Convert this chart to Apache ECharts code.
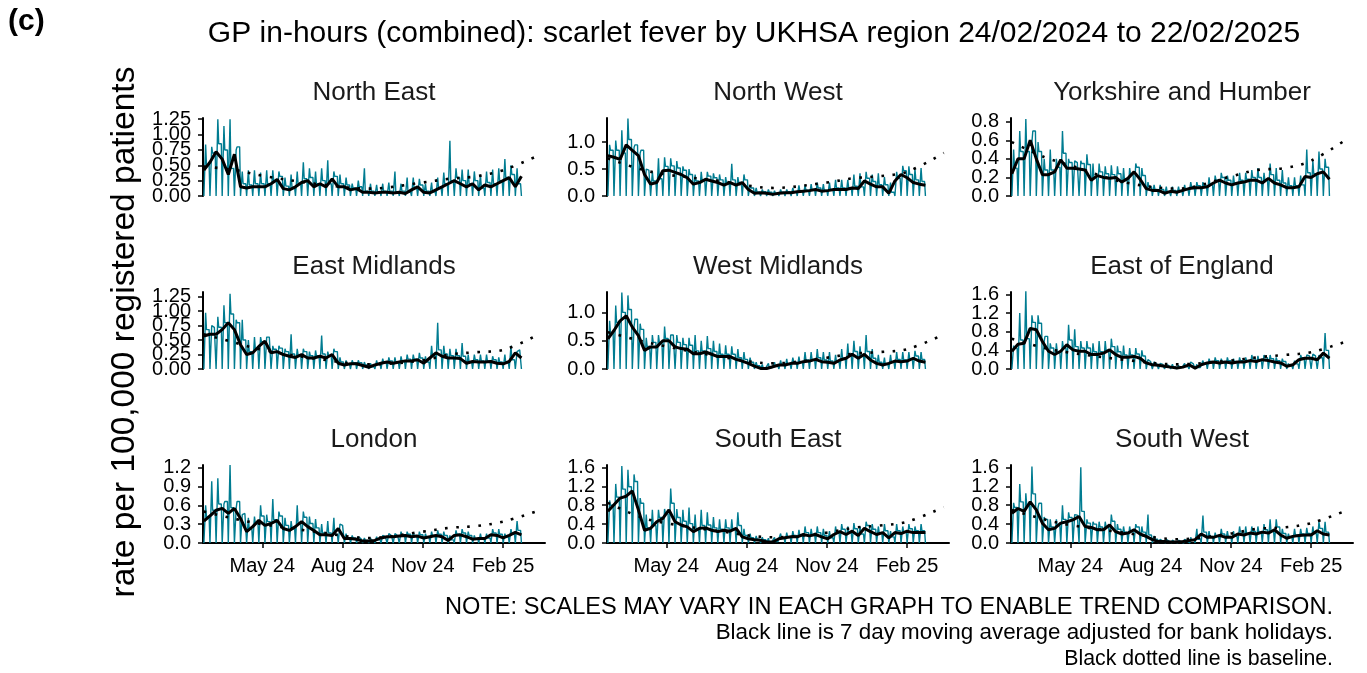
<!DOCTYPE html>
<html>
<head>
<meta charset="utf-8">
<script src="https://cdn.jsdelivr.net/npm/echarts@6/dist/echarts.min.js"></script>
<style>
  html, body { margin: 0; padding: 0; background: #fff; }
  #chart { width: 1367px; height: 673px; }
</style>
</head>
<body>
<div id="chart"></div>
<script>
// weekly readings, week 0 starts Saturday 24/02/2024
// xxAvg: black 7 day average (53 Saturdays), xxMon: Monday spike, xxDay: Tue-Fri level, xxBase: baseline
const regions = ['North East', 'North West', 'Yorkshire and Humber', 'East Midlands', 'West Midlands',
  'East of England', 'London', 'South East', 'South West']

const baseDates = ['2024-02-24', '2024-04-01', '2024-05-01', '2024-07-01', '2024-09-01',
  '2024-11-01', '2024-12-01', '2025-01-01', '2025-02-01', '2025-03-15']
const xTickDates = ['2024-05-01', '2024-08-01', '2024-11-01', '2025-02-01']
const xTickLabels = ['May 24', 'Aug 24', 'Nov 24', 'Feb 25']

const neAvg = [0.42, 0.55, 0.72, 0.6, 0.35, 0.68, 0.15, 0.13, 0.15, 0.15, 0.15, 0.2, 0.27, 0.12, 0.1, 0.15, 0.22, 0.25, 0.15, 0.2,
  0.15, 0.28, 0.15, 0.15, 0.1, 0.12, 0.06, 0.06, 0.05, 0.06, 0.06, 0.05, 0.06, 0.04, 0.1, 0.15, 0.06, 0.05, 0.1, 0.15,
  0.2, 0.25, 0.2, 0.15, 0.2, 0.1, 0.18, 0.15, 0.2, 0.25, 0.3, 0.15, 0.32]
const neMon = [0.84, 0.8, 1.25, 1.14, 1.25, 0.75, 0.4, 0.42, 0.42, 0.38, 0.42, 0.42, 0.4, 0.3, 0.35, 0.4, 0.55, 0.45, 0.4, 0.45,
  0.58, 0.4, 0.35, 0.3, 0.2, 0.25, 0.45, 0.2, 0.18, 0.2, 0.22, 0.4, 0.2, 0.3, 0.3, 0.28, 0.2, 0.22, 0.3, 0.38,
  0.9, 0.45, 0.43, 0.43, 0.4, 0.35, 0.4, 0.43, 0.45, 0.6, 0.5, 0.45]
const neDay = [0.5, 0.7, 0.85, 0.75, 0.45, 0.8, 0.2, 0.18, 0.2, 0.2, 0.2, 0.25, 0.32, 0.16, 0.14, 0.2, 0.28, 0.3, 0.2, 0.25,
  0.2, 0.32, 0.2, 0.18, 0.13, 0.15, 0.08, 0.08, 0.07, 0.08, 0.08, 0.07, 0.08, 0.06, 0.13, 0.18, 0.08, 0.07, 0.13, 0.2,
  0.25, 0.3, 0.25, 0.2, 0.25, 0.13, 0.22, 0.2, 0.25, 0.3, 0.35, 0.2]
const neBase = [0.48, 0.42, 0.33, 0.2, 0.12, 0.22, 0.28, 0.32, 0.42, 0.67]

const nwAvg = [0.75, 0.72, 0.68, 0.95, 0.85, 0.75, 0.4, 0.22, 0.25, 0.47, 0.48, 0.44, 0.4, 0.34, 0.22, 0.25, 0.31, 0.28, 0.25, 0.2,
  0.25, 0.2, 0.25, 0.12, 0.05, 0.06, 0.05, 0.03, 0.05, 0.06, 0.06, 0.08, 0.09, 0.1, 0.12, 0.09, 0.1, 0.12, 0.12, 0.12,
  0.15, 0.14, 0.28, 0.22, 0.17, 0.17, 0.05, 0.28, 0.4, 0.34, 0.25, 0.22, 0.2]
const nwMon = [0.95, 1.03, 1.22, 1.44, 0.9, 0.8, 0.5, 0.45, 0.7, 0.72, 0.7, 0.65, 0.55, 0.5, 0.4, 0.45, 0.45, 0.42, 0.4, 0.35,
  0.6, 0.35, 0.4, 0.2, 0.15, 0.12, 0.12, 0.1, 0.12, 0.12, 0.15, 0.2, 0.2, 0.22, 0.25, 0.22, 0.25, 0.3, 0.3, 0.3,
  0.4, 0.42, 0.45, 0.4, 0.42, 0.35, 0.25, 0.45, 0.56, 0.55, 0.5, 0.52]
const nwDay = [0.85, 0.85, 0.8, 1.05, 0.95, 0.85, 0.48, 0.28, 0.32, 0.55, 0.56, 0.52, 0.48, 0.4, 0.28, 0.3, 0.37, 0.34, 0.3, 0.25,
  0.3, 0.25, 0.3, 0.15, 0.07, 0.08, 0.07, 0.05, 0.07, 0.08, 0.08, 0.1, 0.11, 0.12, 0.15, 0.11, 0.12, 0.15, 0.15, 0.15,
  0.18, 0.17, 0.33, 0.27, 0.21, 0.21, 0.07, 0.33, 0.47, 0.4, 0.3, 0.27]
const nwBase = [0.7, 0.5, 0.4, 0.28, 0.15, 0.25, 0.33, 0.37, 0.45, 0.8]

const yhAvg = [0.24, 0.4, 0.4, 0.6, 0.4, 0.23, 0.23, 0.26, 0.39, 0.3, 0.3, 0.29, 0.28, 0.17, 0.22, 0.2, 0.19, 0.2, 0.15, 0.19,
  0.26, 0.18, 0.08, 0.06, 0.06, 0.03, 0.05, 0.04, 0.06, 0.08, 0.09, 0.09, 0.1, 0.14, 0.17, 0.14, 0.12, 0.14, 0.15, 0.17,
  0.17, 0.14, 0.19, 0.14, 0.12, 0.09, 0.09, 0.1, 0.21, 0.2, 0.24, 0.26, 0.18]
const yhMon = [0.5, 0.7, 0.83, 0.58, 0.58, 0.4, 0.5, 0.4, 0.7, 0.4, 0.38, 0.38, 0.45, 0.35, 0.35, 0.32, 0.33, 0.32, 0.3, 0.3,
  0.35, 0.3, 0.15, 0.12, 0.12, 0.1, 0.1, 0.1, 0.12, 0.15, 0.15, 0.15, 0.2, 0.22, 0.25, 0.22, 0.22, 0.25, 0.25, 0.28,
  0.3, 0.25, 0.35, 0.3, 0.28, 0.2, 0.2, 0.22, 0.5, 0.38, 0.48, 0.4]
const yhDay = [0.3, 0.48, 0.48, 0.7, 0.48, 0.28, 0.28, 0.31, 0.46, 0.36, 0.36, 0.35, 0.34, 0.2, 0.26, 0.24, 0.23, 0.24, 0.18, 0.23,
  0.31, 0.22, 0.1, 0.07, 0.07, 0.04, 0.06, 0.05, 0.07, 0.1, 0.11, 0.11, 0.12, 0.17, 0.2, 0.17, 0.14, 0.17, 0.18, 0.2,
  0.2, 0.17, 0.23, 0.17, 0.14, 0.11, 0.11, 0.12, 0.25, 0.24, 0.29, 0.31]
const yhBase = [0.58, 0.42, 0.33, 0.15, 0.08, 0.21, 0.28, 0.3, 0.38, 0.62]

const emAvg = [0.57, 0.6, 0.6, 0.68, 0.8, 0.68, 0.42, 0.25, 0.28, 0.39, 0.48, 0.28, 0.3, 0.25, 0.22, 0.2, 0.25, 0.19, 0.19, 0.22,
  0.19, 0.25, 0.1, 0.07, 0.09, 0.09, 0.06, 0.03, 0.07, 0.1, 0.12, 0.1, 0.12, 0.14, 0.14, 0.16, 0.1, 0.19, 0.28, 0.22,
  0.19, 0.19, 0.18, 0.1, 0.13, 0.12, 0.12, 0.13, 0.1, 0.09, 0.13, 0.28, 0.19]
const emMon = [0.97, 0.75, 0.9, 1.1, 1.3, 0.85, 0.85, 0.5, 0.55, 0.55, 0.55, 0.4, 0.4, 0.35, 0.6, 0.35, 0.35, 0.3, 0.32, 0.58,
  0.3, 0.35, 0.2, 0.15, 0.15, 0.15, 0.12, 0.1, 0.15, 0.18, 0.2, 0.2, 0.22, 0.25, 0.25, 0.28, 0.22, 0.4, 0.8, 0.4,
  0.35, 0.35, 0.45, 0.25, 0.25, 0.25, 0.25, 0.22, 0.2, 0.25, 0.4, 0.3]
const emDay = [0.68, 0.72, 0.72, 0.8, 0.95, 0.8, 0.5, 0.3, 0.34, 0.47, 0.55, 0.34, 0.36, 0.3, 0.26, 0.24, 0.3, 0.23, 0.23, 0.26,
  0.23, 0.3, 0.12, 0.08, 0.11, 0.11, 0.07, 0.04, 0.08, 0.12, 0.14, 0.12, 0.14, 0.17, 0.17, 0.19, 0.12, 0.23, 0.33, 0.26,
  0.23, 0.23, 0.22, 0.12, 0.16, 0.14, 0.14, 0.16, 0.12, 0.11, 0.16, 0.33]
const emBase = [0.6, 0.45, 0.33, 0.18, 0.08, 0.15, 0.25, 0.29, 0.33, 0.61]

const wmAvg = [0.53, 0.68, 0.85, 0.94, 0.74, 0.59, 0.33, 0.39, 0.39, 0.5, 0.5, 0.39, 0.36, 0.35, 0.27, 0.27, 0.3, 0.26, 0.22, 0.22,
  0.22, 0.17, 0.14, 0.1, 0.05, 0.01, 0.01, 0.04, 0.07, 0.07, 0.1, 0.1, 0.13, 0.14, 0.17, 0.13, 0.12, 0.1, 0.16, 0.19,
  0.26, 0.19, 0.26, 0.16, 0.1, 0.07, 0.1, 0.14, 0.13, 0.14, 0.19, 0.14, 0.12]
const wmMon = [0.85, 1.12, 1.35, 1.3, 0.75, 0.8, 0.55, 0.6, 0.6, 0.75, 0.6, 0.6, 0.55, 0.55, 0.6, 0.5, 0.58, 0.5, 0.45, 0.42,
  0.4, 0.35, 0.3, 0.2, 0.12, 0.08, 0.1, 0.12, 0.15, 0.18, 0.2, 0.22, 0.3, 0.3, 0.35, 0.3, 0.3, 0.25, 0.35, 0.45,
  0.5, 0.4, 0.6, 0.35, 0.25, 0.2, 0.25, 0.3, 0.3, 0.3, 0.32, 0.3]
const wmDay = [0.64, 0.82, 1.0, 1.05, 0.88, 0.7, 0.4, 0.47, 0.47, 0.54, 0.6, 0.47, 0.43, 0.42, 0.32, 0.32, 0.36, 0.31, 0.26, 0.26,
  0.26, 0.2, 0.17, 0.12, 0.06, 0.02, 0.02, 0.05, 0.08, 0.08, 0.12, 0.12, 0.16, 0.17, 0.2, 0.16, 0.14, 0.12, 0.19, 0.23,
  0.31, 0.23, 0.31, 0.19, 0.12, 0.08, 0.12, 0.17, 0.16, 0.17, 0.23, 0.17]
const wmBase = [0.65, 0.5, 0.4, 0.22, 0.1, 0.2, 0.27, 0.3, 0.35, 0.61]

const eeAvg = [0.38, 0.53, 0.55, 0.87, 0.84, 0.59, 0.38, 0.31, 0.38, 0.52, 0.41, 0.38, 0.38, 0.31, 0.31, 0.34, 0.41, 0.31, 0.25, 0.25,
  0.27, 0.23, 0.13, 0.09, 0.08, 0.06, 0.04, 0.02, 0.04, 0.09, 0.02, 0.09, 0.13, 0.15, 0.13, 0.15, 0.13, 0.15, 0.15, 0.18,
  0.16, 0.2, 0.18, 0.15, 0.13, 0.06, 0.09, 0.2, 0.23, 0.23, 0.2, 0.34, 0.23]
const eeMon = [0.5, 1.2, 1.67, 1.15, 1.15, 0.6, 0.55, 0.55, 0.6, 0.95, 0.85, 0.6, 0.6, 0.55, 0.6, 0.6, 0.65, 0.5, 0.5, 0.45,
  0.45, 0.4, 0.2, 0.15, 0.12, 0.1, 0.1, 0.08, 0.12, 0.15, 0.1, 0.18, 0.22, 0.25, 0.22, 0.25, 0.22, 0.25, 0.25, 0.3,
  0.28, 0.3, 0.3, 0.25, 0.22, 0.12, 0.18, 0.3, 0.3, 0.32, 0.3, 0.77]
const eeDay = [0.45, 0.62, 0.65, 1.0, 0.98, 0.7, 0.45, 0.37, 0.45, 0.62, 0.48, 0.45, 0.45, 0.37, 0.37, 0.4, 0.48, 0.37, 0.3, 0.3,
  0.32, 0.28, 0.16, 0.11, 0.1, 0.07, 0.05, 0.03, 0.05, 0.11, 0.03, 0.11, 0.16, 0.18, 0.16, 0.18, 0.16, 0.18, 0.18, 0.22,
  0.19, 0.24, 0.22, 0.18, 0.16, 0.07, 0.11, 0.24, 0.28, 0.28, 0.24, 0.4]
const eeBase = [0.65, 0.45, 0.35, 0.2, 0.1, 0.18, 0.25, 0.3, 0.36, 0.6]

const ldAvg = [0.35, 0.43, 0.52, 0.55, 0.47, 0.55, 0.39, 0.18, 0.26, 0.36, 0.28, 0.31, 0.36, 0.23, 0.2, 0.26, 0.34, 0.26, 0.2, 0.13,
  0.13, 0.12, 0.23, 0.07, 0.07, 0.06, 0.03, 0.03, 0.04, 0.08, 0.1, 0.1, 0.11, 0.12, 0.1, 0.11, 0.08, 0.1, 0.12, 0.1,
  0.04, 0.12, 0.13, 0.1, 0.06, 0.07, 0.07, 0.13, 0.12, 0.08, 0.12, 0.17, 0.13]
const ldMon = [0.6, 0.98, 1.03, 0.62, 1.24, 0.55, 0.45, 0.4, 0.42, 0.6, 0.45, 0.7, 0.5, 0.4, 0.35, 0.6, 0.5, 0.42, 0.38, 0.3,
  0.35, 0.4, 0.3, 0.15, 0.12, 0.1, 0.08, 0.08, 0.1, 0.12, 0.15, 0.15, 0.18, 0.18, 0.17, 0.18, 0.15, 0.18, 0.2, 0.18,
  0.12, 0.2, 0.22, 0.18, 0.12, 0.15, 0.15, 0.22, 0.22, 0.15, 0.22, 0.35]
const ldDay = [0.42, 0.52, 0.62, 0.66, 0.56, 0.66, 0.47, 0.22, 0.31, 0.43, 0.34, 0.37, 0.43, 0.28, 0.24, 0.31, 0.41, 0.31, 0.24, 0.16,
  0.16, 0.14, 0.28, 0.08, 0.08, 0.07, 0.04, 0.04, 0.05, 0.1, 0.12, 0.12, 0.13, 0.14, 0.12, 0.13, 0.1, 0.12, 0.14, 0.12,
  0.05, 0.14, 0.16, 0.12, 0.07, 0.08, 0.08, 0.16, 0.14, 0.1, 0.14, 0.2]
const ldBase = [0.5, 0.38, 0.3, 0.18, 0.08, 0.18, 0.24, 0.27, 0.34, 0.52]

const seAvg = [0.67, 0.81, 0.95, 0.99, 1.1, 0.7, 0.27, 0.31, 0.45, 0.52, 0.7, 0.45, 0.38, 0.34, 0.24, 0.31, 0.32, 0.27, 0.24, 0.27,
  0.25, 0.31, 0.13, 0.09, 0.07, 0.06, 0.02, 0.02, 0.09, 0.11, 0.13, 0.13, 0.18, 0.15, 0.18, 0.13, 0.09, 0.18, 0.24, 0.18,
  0.25, 0.16, 0.31, 0.24, 0.18, 0.22, 0.11, 0.22, 0.2, 0.25, 0.22, 0.22, 0.22]
const seMon = [0.9, 1.25, 1.63, 1.55, 1.45, 0.95, 0.6, 0.7, 0.7, 0.72, 1.15, 0.72, 0.7, 0.75, 0.6, 0.7, 0.65, 0.55, 0.5, 0.5,
  0.5, 0.65, 0.3, 0.2, 0.15, 0.12, 0.1, 0.12, 0.2, 0.22, 0.25, 0.28, 0.35, 0.3, 0.35, 0.3, 0.25, 0.35, 0.4, 0.35,
  0.42, 0.35, 0.45, 0.4, 0.35, 0.4, 0.25, 0.4, 0.35, 0.4, 0.35, 0.4]
const seDay = [0.8, 0.97, 1.14, 1.19, 1.3, 0.84, 0.32, 0.37, 0.54, 0.62, 0.84, 0.54, 0.46, 0.41, 0.29, 0.37, 0.38, 0.32, 0.29, 0.32,
  0.3, 0.37, 0.16, 0.11, 0.08, 0.07, 0.03, 0.03, 0.11, 0.13, 0.16, 0.16, 0.22, 0.18, 0.22, 0.16, 0.11, 0.22, 0.29, 0.22,
  0.3, 0.19, 0.37, 0.29, 0.22, 0.26, 0.13, 0.26, 0.24, 0.3, 0.26, 0.26]
const seBase = [0.85, 0.55, 0.42, 0.25, 0.12, 0.22, 0.32, 0.37, 0.45, 0.76]

const swAvg = [0.63, 0.73, 0.67, 0.87, 0.7, 0.42, 0.28, 0.31, 0.42, 0.45, 0.49, 0.56, 0.35, 0.33, 0.28, 0.28, 0.38, 0.24, 0.19, 0.21,
  0.28, 0.19, 0.14, 0.07, 0.03, 0.03, 0.02, 0.02, 0.03, 0.05, 0.07, 0.19, 0.12, 0.12, 0.16, 0.12, 0.12, 0.19, 0.17, 0.21,
  0.19, 0.23, 0.21, 0.28, 0.17, 0.1, 0.14, 0.16, 0.17, 0.17, 0.26, 0.19, 0.17]
const swMon = [0.85, 1.25, 1.05, 1.62, 0.75, 0.55, 0.5, 0.5, 0.8, 0.65, 0.6, 1.6, 0.5, 0.45, 0.45, 0.45, 0.6, 0.4, 0.35, 0.35,
  0.4, 0.35, 0.6, 0.15, 0.08, 0.08, 0.06, 0.06, 0.08, 0.12, 0.3, 0.58, 0.25, 0.22, 0.3, 0.25, 0.25, 0.35, 0.35, 0.35,
  0.35, 0.4, 0.5, 0.5, 0.3, 0.2, 0.3, 0.3, 0.32, 0.35, 0.45, 0.45]
const swDay = [0.75, 0.87, 0.8, 1.04, 0.84, 0.5, 0.34, 0.37, 0.5, 0.54, 0.59, 0.67, 0.42, 0.4, 0.34, 0.34, 0.46, 0.29, 0.23, 0.25,
  0.34, 0.23, 0.17, 0.08, 0.04, 0.04, 0.02, 0.02, 0.04, 0.06, 0.08, 0.23, 0.14, 0.14, 0.19, 0.14, 0.14, 0.23, 0.2, 0.25,
  0.23, 0.28, 0.25, 0.34, 0.2, 0.12, 0.17, 0.19, 0.2, 0.2, 0.31, 0.23]
const swBase = [0.7, 0.5, 0.38, 0.22, 0.08, 0.2, 0.3, 0.33, 0.42, 0.7]

// y axis tick labels and top of each panel
const yTicks = [
  ['0.00', '0.25', '0.50', '0.75', '1.00', '1.25'],
  ['0.0', '0.5', '1.0'],
  ['0.0', '0.2', '0.4', '0.6', '0.8'],
  ['0.00', '0.25', '0.50', '0.75', '1.00', '1.25'],
  ['0.0', '0.5', '1.0'],
  ['0.0', '0.4', '0.8', '1.2', '1.6'],
  ['0.0', '0.3', '0.6', '0.9', '1.2'],
  ['0.0', '0.4', '0.8', '1.2', '1.6'],
  ['0.0', '0.4', '0.8', '1.2', '1.6']
]
const yMax = [1.27, 1.45, 0.84, 1.33, 1.36, 1.65, 1.24, 1.65, 1.65]

const avgs = [neAvg, nwAvg, yhAvg, emAvg, wmAvg, eeAvg, ldAvg, seAvg, swAvg]
const mons = [neMon, nwMon, yhMon, emMon, wmMon, eeMon, ldMon, seMon, swMon]
const days = [neDay, nwDay, yhDay, emDay, wmDay, eeDay, ldDay, seDay, swDay]
const bases = [neBase, nwBase, yhBase, emBase, wmBase, eeBase, ldBase, seBase, swBase]

const DAY = 86400000
const start = Date.UTC(2024, 1, 24)
const xMin = Date.UTC(2024, 1, 23)
const xMax = Date.UTC(2025, 2, 21)
const teal = '#007C91'
const font = '"Liberation Sans", Arial, sans-serif'

function toTs(s) {
  const p = s.split('-')
  return Date.UTC(+p[0], +p[1] - 1, +p[2])
}

function dailyData(mon, day) {
  const out = []
  for (let w = 0; w < mon.length; w++) {
    const t0 = start + w * 7 * DAY
    out.push([t0, 0], [t0 + DAY, 0], [t0 + 2 * DAY, mon[w]])
    for (let k = 3; k < 7; k++) out.push([t0 + k * DAY, day[w]])
  }
  out.push([start + mon.length * 7 * DAY, 0])
  return out
}

const colLeft = [203, 607, 1011]
const rowTop = [118, 292, 465]
const rowH = [78, 77, 78]
const panelW = 342

const xTickTs = xTickDates.map(toTs)

const grid = []
const xAxis = []
const yAxis = []
const series = []
const graphic = []

// the y labels overlap like the original; two stacked axes per panel keep echarts from dropping any
function yAxisFor(i, part) {
  const labels = yTicks[i].filter((t, k) => k % 2 === part)
  const tv = labels.map(Number)
  return {
    type: 'value',
    gridIndex: i,
    position: 'left',
    min: 0,
    max: yMax[i],
    splitLine: { show: false },
    axisLine: { show: part === 0, lineStyle: { color: '#000', width: 2 } },
    axisTick: { show: true, customValues: tv, length: 5, lineStyle: { color: '#000', width: 1.5 } },
    axisLabel: {
      customValues: tv,
      showMinLabel: true,
      showMaxLabel: true,
      margin: 12,
      fontSize: 20,
      fontFamily: font,
      color: '#000',
      formatter: v => labels[tv.indexOf(v)]
    }
  }
}

regions.forEach((name, i) => {
  const r = Math.floor(i / 3)
  const c = i % 3
  const bottom = r === 2
  grid.push({ left: colLeft[c], top: rowTop[r], width: panelW, height: rowH[r] })
  xAxis.push({
    type: 'value',
    gridIndex: i,
    min: xMin,
    max: xMax,
    splitLine: { show: false },
    axisLine: { show: bottom, onZero: false, lineStyle: { color: '#000', width: 2 } },
    axisTick: { show: bottom, customValues: xTickTs, length: 5, lineStyle: { color: '#000', width: 1.5 } },
    axisLabel: {
      show: bottom,
      customValues: xTickTs,
      margin: 13,
      fontSize: 20,
      fontFamily: font,
      color: '#000',
      formatter: v => xTickLabels[xTickTs.indexOf(v)]
    }
  })
  yAxis.push(yAxisFor(i, 0), yAxisFor(i, 1))
  const yi = 2 * i
  series.push({
    type: 'line',
    xAxisIndex: i,
    yAxisIndex: yi,
    data: dailyData(mons[i], days[i]),
    showSymbol: false,
    lineStyle: { color: teal, width: 1.4 },
    z: 2
  })
  series.push({
    type: 'line',
    xAxisIndex: i,
    yAxisIndex: yi,
    data: baseDates.map((d, k) => [toTs(d), bases[i][k]]),
    showSymbol: false,
    smooth: 0.35,
    lineStyle: { color: '#000', width: 2.6, type: [2.6, 8.5] },
    z: 3
  })
  series.push({
    type: 'line',
    xAxisIndex: i,
    yAxisIndex: yi,
    data: avgs[i].map((v, w) => [start + w * 7 * DAY, v]),
    showSymbol: false,
    lineStyle: { color: '#000', width: 3 },
    z: 4
  })
  graphic.push({
    type: 'text',
    x: colLeft[c] + panelW / 2,
    y: rowTop[r] - 25,
    style: { text: name, font: '26px ' + font, fill: '#1a1a1a', textAlign: 'center', textVerticalAlign: 'middle' }
  })
})

graphic.push(
  { type: 'text', x: 754, y: 34, style: { text: 'GP in-hours (combined): scarlet fever by UKHSA region 24/02/2024 to 22/02/2025',
    font: '30px ' + font, fill: '#000', textAlign: 'center', textVerticalAlign: 'middle' } },
  { type: 'text', x: 8, y: 22, style: { text: '(c)', font: 'bold 30px ' + font, fill: '#000', textAlign: 'left', textVerticalAlign: 'middle' } },
  { type: 'text', x: 125, y: 332, rotation: Math.PI / 2, style: { text: 'rate per 100,000 registered patients',
    font: '33.5px ' + font, fill: '#000', textAlign: 'center', textVerticalAlign: 'middle' } },
  { type: 'text', x: 1333, y: 607, style: { text: 'NOTE: SCALES MAY VARY IN EACH GRAPH TO ENABLE TREND COMPARISON.',
    font: '23.6px ' + font, fill: '#000', textAlign: 'right', textVerticalAlign: 'middle' } },
  { type: 'text', x: 1333, y: 633, style: { text: 'Black line is 7 day moving average adjusted for bank holidays.',
    font: '22.4px ' + font, fill: '#000', textAlign: 'right', textVerticalAlign: 'middle' } },
  { type: 'text', x: 1333, y: 659, style: { text: 'Black dotted line is baseline.',
    font: '21.3px ' + font, fill: '#000', textAlign: 'right', textVerticalAlign: 'middle' } }
)

const chart = echarts.init(document.getElementById('chart'))
chart.setOption({
  animation: false,
  backgroundColor: '#fff',
  grid: grid,
  xAxis: xAxis,
  yAxis: yAxis,
  series: series,
  graphic: graphic
})
</script>
</body>
</html>
